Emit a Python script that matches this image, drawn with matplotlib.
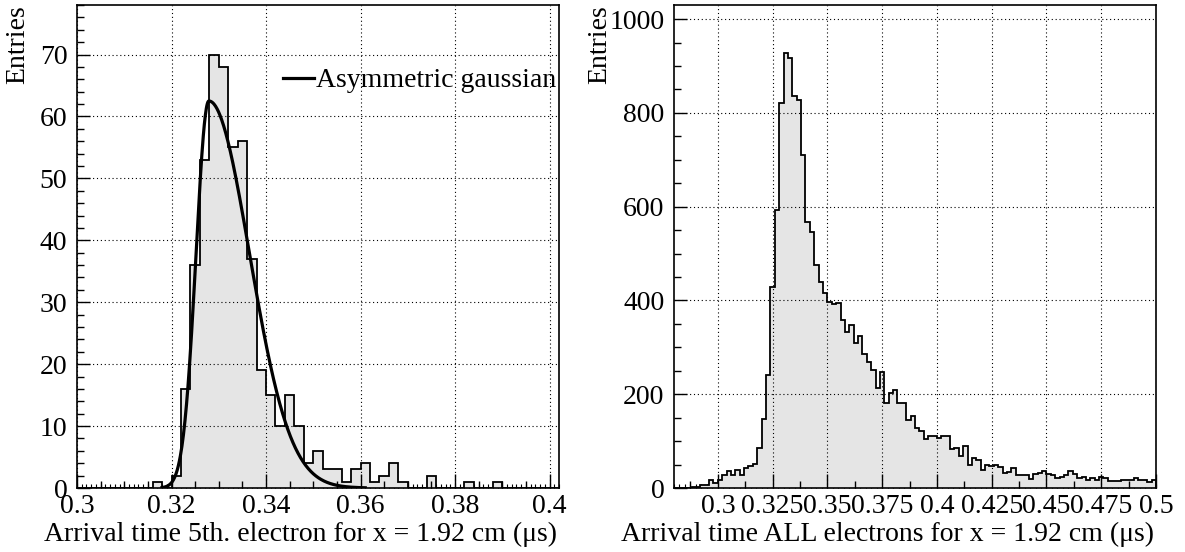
import numpy as np
import matplotlib
matplotlib.use("Agg")
import matplotlib.pyplot as plt
from matplotlib.ticker import MultipleLocator, FuncFormatter

plt.rcParams['font.family'] = ['Liberation Serif', 'DejaVu Serif']
plt.rcParams['font.size'] = 20

# 5th electron arrival time, bins of 0.002 us from 0.300
fifth_start = 0.300
fifth_width = 0.002
fifth_counts = [0, 0, 0, 0, 0, 0, 0, 0, 1, 0,
                2, 16, 36, 53, 70, 68, 55, 56, 37, 19,
                15, 10, 15, 10, 4, 6, 3, 3, 1, 3,
                4, 1, 2, 4, 1, 0, 0, 2, 0, 0,
                0, 1, 0, 0, 1, 0, 0, 0, 0, 0,
                0]

# asymmetric gaussian fit to the 5th electron distribution
fit_amp = 62.5
fit_mean = 0.3279
fit_sigma_left = 0.0027
fit_sigma_right = 0.0086
fit_range = (0.318, 0.361)

# all electrons arrival time, bins of 0.002 us from 0.280
all_start = 0.280
all_width = 0.002
all_counts = [0, 0, 0, 1, 2, 3, 6, 6, 18, 11,
              18, 27, 37, 28, 38, 28, 43, 47, 51, 85,
              148, 240, 428, 593, 820, 928, 917, 837, 828, 711,
              567, 546, 475, 440, 415, 397, 393, 395, 359, 333,
              347, 310, 324, 285, 269, 252, 213, 248, 182, 203,
              209, 181, 182, 145, 154, 129, 121, 105, 110, 110,
              106, 110, 110, 83, 85, 69, 89, 50, 64, 59,
              39, 48, 46, 50, 45, 33, 35, 42, 27, 27,
              28, 19, 30, 33, 36, 29, 27, 22, 24, 27,
              36, 29, 22, 24, 17, 21, 17, 23, 21, 14,
              15, 15, 18, 17, 16, 21, 17, 18, 13, 18]

left_xticks = [0.3, 0.32, 0.34, 0.36, 0.38, 0.4]
right_xticks = [0.3, 0.325, 0.35, 0.375, 0.4, 0.425, 0.45, 0.475, 0.5]

fill_col = '#e5e5e5'


def asym_gaus(x):
    s = np.where(x < fit_mean, fit_sigma_left, fit_sigma_right)
    return fit_amp * np.exp(-0.5 * ((x - fit_mean) / s) ** 2)


def draw_hist(ax, start, width, counts):
    counts = np.asarray(counts, dtype=float)
    edges = start + width * np.arange(len(counts) + 1)
    ax.stairs(counts, edges, fill=True, color=fill_col, zorder=1)
    ax.stairs(counts, edges, color='black', lw=1.3, zorder=3)
    return edges


def style_axes(ax, xmaj, xmin, xfine, ymaj, ymin):
    ax.xaxis.set_major_locator(MultipleLocator(xmaj))
    ax.xaxis.set_minor_locator(MultipleLocator(xmin))
    ax.yaxis.set_major_locator(MultipleLocator(ymaj))
    ax.yaxis.set_minor_locator(MultipleLocator(ymin))
    ax.xaxis.set_major_formatter(FuncFormatter(lambda v, p: '%g' % round(v, 4)))
    ax.tick_params(which='major', direction='in', length=10, width=1.0,
                   pad=4, labelsize=20)
    ax.tick_params(which='minor', direction='in', length=5, width=1.0)
    ax.tick_params(axis='y', which='major', length=9, pad=7)
    ax.tick_params(axis='y', which='minor', length=5)
    # small extra ticks along the time axis
    fine = ax.secondary_xaxis('bottom')
    fine.xaxis.set_major_locator(MultipleLocator(xfine))
    fine.tick_params(direction='in', length=3, width=0.8, labelbottom=False)
    fine.spines['bottom'].set_visible(False)
    ax.grid(True, which='major', color='black', lw=0.8,
            linestyle=(0, (1, 2.5)), zorder=2)
    ax.set_axisbelow(False)
    for sp in ax.spines.values():
        sp.set_linewidth(1.2)
        sp.set_zorder(5)


fig = plt.figure(figsize=(11.85, 5.52), dpi=100)
W, H = 1185.0, 552.0
ax1 = fig.add_axes([77 / W, 1 - 488 / H, 482 / W, 483 / H])
ax2 = fig.add_axes([674 / W, 1 - 488 / H, 482 / W, 483 / H])

# left: 5th electron with fit
edges1 = draw_hist(ax1, fifth_start, fifth_width, fifth_counts)
xf = np.linspace(fit_range[0], fit_range[1], 400)
ax1.plot(xf, asym_gaus(xf), color='black', lw=2.3, zorder=4,
         label='Asymmetric gaussian')
ax1.set_xlim(edges1[0], edges1[-1])
ax1.set_ylim(0, 78)
ax1.set_xticks(left_xticks)
style_axes(ax1, 0.02, 0.005, 0.001, 10, 2)
ax1.set_xlabel('Arrival time 5th. electron for x = 1.92 cm (\u03bcs)',
               loc='right', fontsize=20)
ax1.xaxis.set_label_coords(0.995, -0.07)
ax1.set_ylabel('Entries', loc='top', fontsize=20)
ax1.yaxis.set_label_coords(-0.098, 1.0)
ax1.legend(loc='upper right', bbox_to_anchor=(0.995, 0.87), frameon=False,
           handlelength=1.1, handletextpad=0.1, borderpad=0,
           borderaxespad=0, fontsize=20)

# right: all electrons
edges2 = draw_hist(ax2, all_start, all_width, all_counts)
ax2.set_xlim(edges2[0], edges2[-1])
ax2.set_ylim(0, 1030)
style_axes(ax2, 0.025, 0.0125, 0.0025, 200, 50)
ax2.set_xticks(right_xticks)
ax2.set_xlabel('Arrival time ALL electrons for x = 1.92 cm (\u03bcs)',
               loc='right', fontsize=20)
ax2.xaxis.set_label_coords(0.995, -0.07)
ax2.set_ylabel('Entries', loc='top', fontsize=20)
ax2.yaxis.set_label_coords(-0.128, 1.0)

fig.savefig('out.png', dpi=100)
